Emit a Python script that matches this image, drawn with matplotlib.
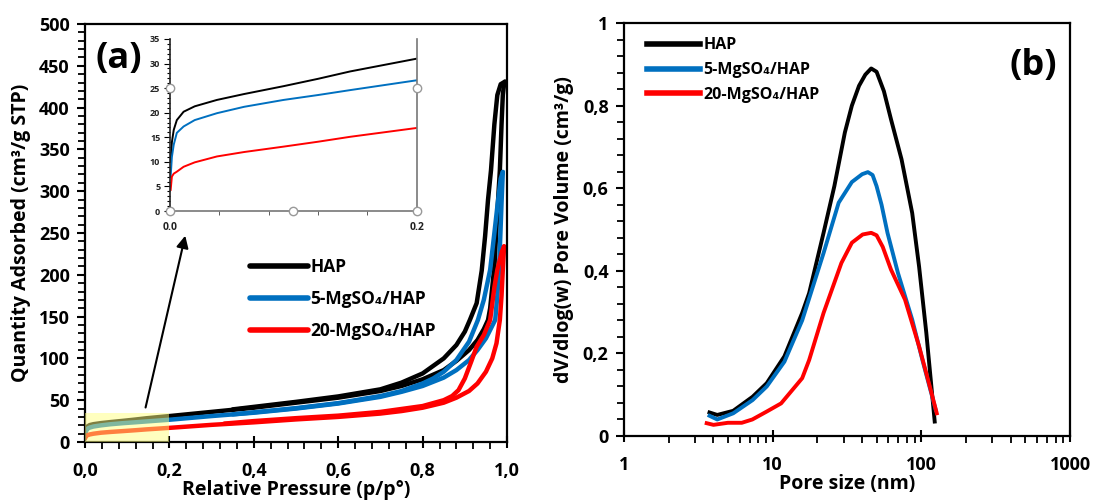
import matplotlib
matplotlib.use("Agg")
import matplotlib.pyplot as plt
from matplotlib.patches import Rectangle
from matplotlib.ticker import MultipleLocator, FuncFormatter, LogLocator

plt.rcParams['font.family'] = ['Open Sans', 'DejaVu Sans']
plt.rcParams['font.weight'] = 'bold'

# === Daten (a): N2-Isothermen ===
SAMPLES = ["HAP", "5-MgSO₄/HAP", "20-MgSO₄/HAP"]
COLORS = ["#000000", "#0070C0", "#FF0000"]

# Adsorptionsast
HAP_P_ADS = [0.0005, 0.0015, 0.003, 0.0055, 0.011, 0.02, 0.038, 0.06, 0.092, 0.12, 0.146, 0.2,
             0.3, 0.4, 0.5, 0.6, 0.7, 0.75, 0.8, 0.85, 0.88, 0.91, 0.93, 0.945, 0.955, 0.96,
             0.965, 0.97, 0.974, 0.98, 0.983, 0.987, 0.99, 0.993, 0.995]
HAP_V_ADS = [10, 14, 16.5, 18.5, 20.2, 21.3, 22.6, 23.8, 25.4, 26.9, 28.4, 31,
             36, 41, 47, 53, 61, 67, 75, 86, 97, 110, 122, 135, 146, 160,
             185, 210, 246, 300, 325, 380, 415, 428, 431]
MG5_P_ADS = [0.0005, 0.0015, 0.003, 0.0055, 0.011, 0.02, 0.038, 0.06, 0.092, 0.12, 0.146, 0.2,
             0.3, 0.4, 0.5, 0.6, 0.7, 0.75, 0.8, 0.85, 0.88, 0.91, 0.93, 0.95, 0.96, 0.972,
             0.977, 0.981, 0.984, 0.987, 0.99]
MG5_V_ADS = [7, 11, 13.5, 15.9, 17.2, 18.5, 19.9, 21.2, 22.6, 23.6, 24.6, 26.6,
             31, 35, 40, 46, 54, 60, 67, 77, 86, 98, 110, 124, 134, 146,
             175, 206, 245, 286, 323]
MG20_P_ADS = [0.0005, 0.0015, 0.003, 0.0055, 0.011, 0.02, 0.038, 0.06, 0.092, 0.12, 0.146, 0.2,
              0.3, 0.4, 0.5, 0.6, 0.7, 0.75, 0.8, 0.85, 0.88, 0.91, 0.93, 0.95, 0.965,
              0.975, 0.983, 0.987, 0.99, 0.993]
MG20_V_ADS = [4.3, 7.0, 7.6, 8.0, 9.0, 9.9, 11.1, 12.0, 13.1, 14.1, 15.1, 16.9,
              20.5, 23.5, 27, 30, 34, 37, 41, 47, 53, 61, 70, 84, 100,
              118, 146, 175, 206, 234]

# Desorptionsast
HAP_P_DES = [0.995, 0.985, 0.977, 0.97, 0.962, 0.955, 0.948, 0.94, 0.928, 0.912, 0.9, 0.88,
             0.85, 0.825, 0.8, 0.75, 0.7, 0.6, 0.5, 0.4, 0.35]
HAP_V_DES = [431, 428, 415, 380, 325, 290, 246, 205, 166, 146, 132, 116,
             100, 91, 82, 71, 63, 54.5, 48, 42, 39]
MG5_P_DES = [0.99, 0.985, 0.978, 0.97, 0.96, 0.945, 0.931, 0.91, 0.88, 0.85, 0.825, 0.8,
             0.75, 0.7, 0.6, 0.5, 0.4, 0.35]
MG5_V_DES = [323, 315, 286, 250, 206, 170, 146, 120, 98, 84, 76, 70,
             61, 55, 46.5, 40.5, 35.5, 33]
MG20_P_DES = [0.993, 0.988, 0.977, 0.97, 0.96, 0.945, 0.928, 0.915, 0.9, 0.885, 0.87, 0.85,
              0.8, 0.7, 0.6, 0.5, 0.4, 0.33]
MG20_V_DES = [234, 228, 206, 185, 146, 128, 114, 96, 76, 62, 55, 50,
              43, 36, 31.5, 28.5, 25, 22]

# === Daten (b): Porengroessenverteilung ===
HAP_D = [3.76, 4.24, 5.43, 7.33, 9.13, 12.0, 15.8, 17.6, 22.0, 26.0, 30.6, 34.1, 38.1, 42.0,
         46.0, 50.0, 56.0, 62.5, 73.6, 86.8, 96.6, 108, 123]
HAP_DV = [0.057, 0.051, 0.061, 0.095, 0.128, 0.193, 0.298, 0.346, 0.492, 0.605, 0.735, 0.80,
          0.848, 0.875, 0.89, 0.882, 0.835, 0.767, 0.67, 0.54, 0.41, 0.25, 0.035]
MG5_D = [3.76, 4.24, 5.43, 7.33, 9.13, 12.0, 15.8, 22.0, 27.8, 34.1, 40.0, 43.7, 47.0, 50.0,
         54.0, 59.2, 69.6, 86.8, 101.7, 125]
MG5_DV = [0.049, 0.04, 0.055, 0.087, 0.12, 0.18, 0.28, 0.443, 0.565, 0.615, 0.634, 0.639, 0.632,
          0.605, 0.56, 0.492, 0.395, 0.282, 0.184, 0.063]
MG20_D = [3.6, 4.0, 5.0, 6.2, 7.3, 9.1, 11.4, 14.2, 15.8, 17.6, 22.0, 29.0, 34.1, 40.3, 46.0,
          50.0, 55.0, 62.5, 77.7, 96.6, 114, 127]
MG20_DV = [0.031, 0.027, 0.032, 0.032, 0.04, 0.059, 0.079, 0.12, 0.14, 0.184, 0.298, 0.419,
           0.468, 0.488, 0.492, 0.486, 0.458, 0.403, 0.33, 0.217, 0.12, 0.055]

ADS = [(HAP_P_ADS, HAP_V_ADS), (MG5_P_ADS, MG5_V_ADS), (MG20_P_ADS, MG20_V_ADS)]
DES = [(HAP_P_DES, HAP_V_DES), (MG5_P_DES, MG5_V_DES), (MG20_P_DES, MG20_V_DES)]
PSD = [(HAP_D, HAP_DV), (MG5_D, MG5_DV), (MG20_D, MG20_DV)]


def comma_fmt(digits):
    def f(val, pos):
        return f"{val:.{digits}f}".replace(".", ",")
    return FuncFormatter(f)


def psd_fmt(val, pos):
    if abs(val) < 1e-9:
        return "0"
    if abs(val - 1) < 1e-9:
        return "1"
    return f"{val:.1f}".replace(".", ",")


def style_axes(ax):
    for sp in ax.spines.values():
        sp.set_linewidth(1.6)
    ax.tick_params(labelsize=13, width=1.5)
    for lab in ax.get_xticklabels() + ax.get_yticklabels():
        lab.set_fontweight('bold')


fig = plt.figure(figsize=(10.97, 5.03), dpi=100)

# ----------------- (a) -----------------
ax1 = fig.add_axes([0.0775, 0.1213, 0.3847, 0.831])
for (pa, va), (pd_, vd), name, col in zip(ADS, DES, SAMPLES, COLORS):
    ax1.plot(pa, va, color=col, lw=3.2, label=name, solid_capstyle='round',
             solid_joinstyle='round')
    ax1.plot(pd_, vd, color=col, lw=3.2, solid_capstyle='round', solid_joinstyle='round')

ax1.set_xlim(0, 1)
ax1.set_ylim(0, 500)
ax1.xaxis.set_major_locator(MultipleLocator(0.2))
ax1.xaxis.set_minor_locator(MultipleLocator(0.04))
ax1.yaxis.set_major_locator(MultipleLocator(50))
ax1.yaxis.set_minor_locator(MultipleLocator(10))
ax1.xaxis.set_major_formatter(comma_fmt(1))
ax1.tick_params(axis='x', which='major', direction='inout', length=9, pad=10)
ax1.tick_params(axis='x', which='minor', direction='out', length=5, width=1.3)
ax1.tick_params(axis='y', which='major', direction='out', length=6, pad=5)
ax1.tick_params(axis='y', which='minor', direction='out', length=5, width=1.3)
style_axes(ax1)
ax1.set_xlabel("Relative Pressure (p/p°)", fontsize=14, fontweight='bold', labelpad=0)
ax1.set_ylabel("Quantity Adsorbed (cm³/g STP)", fontsize=14, fontweight='bold', labelpad=6)

# gelbe Markierung des Niederdruckbereichs
ax1.add_patch(Rectangle((0, 0), 0.2, 35, facecolor='#FFFF80', alpha=0.5,
                        edgecolor='none', zorder=5))
ax1.annotate("", xy=(0.239, 250), xytext=(0.142, 38),
             arrowprops=dict(arrowstyle='-|>', color='black', lw=1.5,
                             mutation_scale=18), zorder=6)
ax1.text(0.025, 0.96, "(a)", transform=ax1.transAxes, fontsize=26,
         fontweight='bold', va='top', ha='left')

leg1 = ax1.legend(loc='upper left', bbox_to_anchor=(0.355, 0.478), frameon=False,
                  fontsize=12.5, handlelength=3.3, handletextpad=0.15, labelspacing=0.8)
for t in leg1.get_texts():
    t.set_fontweight('bold')
for ln in leg1.get_lines():
    ln.set_linewidth(4)

# Inset
axi = fig.add_axes([0.155, 0.5805, 0.225, 0.342])
for (pa, va), col in zip(ADS, COLORS):
    axi.plot(pa, va, color=col, lw=1.4)
axi.set_xlim(0, 0.2)
axi.set_ylim(0, 35)
axi.set_facecolor('none')
axi.spines['top'].set_visible(False)
axi.spines['left'].set_color('#222222')
axi.spines['bottom'].set_color('#777777')
axi.spines['right'].set_color('#777777')
for sp in axi.spines.values():
    sp.set_linewidth(1.2)
axi.set_xticks([0.0, 0.2])
axi.xaxis.set_minor_locator(MultipleLocator(0.04))
axi.yaxis.set_major_locator(MultipleLocator(5))
axi.yaxis.set_minor_locator(MultipleLocator(1))
axi.xaxis.set_major_formatter(FuncFormatter(lambda v, p: f"{v:.1f}"))
axi.tick_params(axis='x', which='major', length=0, labelsize=7.5, pad=8, labelcolor='#222222')
axi.tick_params(axis='x', which='minor', direction='out', length=3, color='#444444')
axi.tick_params(axis='y', which='major', direction='out', length=4, labelsize=6.5,
                labelcolor='#222222', pad=3)
axi.tick_params(axis='y', which='minor', direction='out', length=2.5, width=0.8)
for lab in axi.get_xticklabels() + axi.get_yticklabels():
    lab.set_fontweight('bold')
# Auswahlpunkte (Excel-Griffe)
for hx, hy in [(0, 0), (0.5, 0), (1, 0), (0, 25 / 35), (1, 25 / 35)]:
    axi.plot(hx, hy, 'o', transform=axi.transAxes, ms=6, mfc='white',
             mec='#999999', mew=1, clip_on=False, zorder=10)

# ----------------- (b) -----------------
ax2 = fig.add_axes([0.5688, 0.1332, 0.4066, 0.821])
for (d, dv), name, col in zip(PSD, SAMPLES, COLORS):
    ax2.plot(d, dv, color=col, lw=2.8, label=name, solid_joinstyle='round')
ax2.set_xscale('log')
ax2.set_xlim(1, 1000)
ax2.set_ylim(0, 1)
ax2.xaxis.set_major_locator(LogLocator(base=10, numticks=10))
ax2.xaxis.set_minor_locator(LogLocator(base=10, subs=range(2, 10), numticks=10))
ax2.xaxis.set_major_formatter(FuncFormatter(lambda v, p: f"{v:.0f}"))
ax2.xaxis.set_minor_formatter(FuncFormatter(lambda v, p: ""))
ax2.yaxis.set_major_locator(MultipleLocator(0.2))
ax2.yaxis.set_minor_locator(MultipleLocator(0.04))
ax2.yaxis.set_major_formatter(FuncFormatter(psd_fmt))
ax2.tick_params(axis='x', which='major', direction='inout', length=9, pad=10)
ax2.tick_params(axis='x', which='minor', direction='out', length=5, width=1.3)
ax2.tick_params(axis='y', which='major', direction='out', length=6, pad=5)
ax2.tick_params(axis='y', which='minor', direction='out', length=5, width=1.3)
style_axes(ax2)
ax2.set_xlabel("Pore size (nm)", fontsize=14, fontweight='bold', labelpad=0)
ax2.set_ylabel("dV/dlog(w) Pore Volume (cm³/g)", fontsize=14, fontweight='bold', labelpad=6)
ax2.text(0.97, 0.94, "(b)", transform=ax2.transAxes, fontsize=26,
         fontweight='bold', va='top', ha='right')
leg2 = ax2.legend(loc='upper left', bbox_to_anchor=(0.02, 1.0), frameon=False,
                  fontsize=11.5, handlelength=3.3, handletextpad=0.2, labelspacing=0.55)
for t in leg2.get_texts():
    t.set_fontweight('bold')
for ln in leg2.get_lines():
    ln.set_linewidth(4)

fig.savefig("out.png", dpi=100)
